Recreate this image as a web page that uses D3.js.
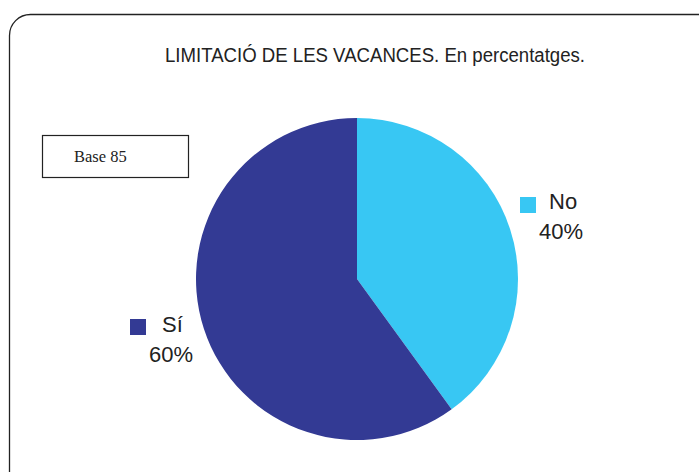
<!DOCTYPE html>
<html>
<head>
<meta charset="utf-8">
<script src="https://cdn.jsdelivr.net/npm/d3@7"></script>
<style>
body { margin: 0; background: #fff; }
</style>
</head>
<body>
<div id="chart"></div>
<script>
// data
var labels = ["No", "Sí"];
var values = [40, 60];
var colors = ["#38C7F3", "#333A94"];

var width = 699;
var height = 472;
var cx = 357, cy = 279, radius = 161;

var svg = d3.select('#chart')
    .append('svg')
        .attr('width', width)
        .attr('height', height);

// outer frame
svg.append('rect')
    .attr('x', 9.5)
    .attr('y', 14.5)
    .attr('width', 710)
    .attr('height', 480)
    .attr('rx', 21)
    .style('fill', 'none')
    .style('stroke', '#222')
    .style('stroke-width', 1.3);

svg.append('text')
    .attr('x', 375)
    .attr('y', 62)
    .attr('text-anchor', 'middle')
    .style('font-family', 'Liberation Sans, Arial, sans-serif')
    .style('font-size', '19.5px')
    .attr('textLength', 420)
    .attr('lengthAdjust', 'spacingAndGlyphs')
    .style('fill', '#222')
    .text('LIMITACIÓ DE LES VACANCES. En percentatges.');

// base box
svg.append('rect')
    .attr('x', 42.5)
    .attr('y', 135.5)
    .attr('width', 146)
    .attr('height', 42)
    .style('fill', '#fff')
    .style('stroke', '#222')
    .style('stroke-width', 1.2);

svg.append('text')
    .attr('x', 74)
    .attr('y', 162)
    .style('font-family', 'Liberation Serif, Times New Roman, serif')
    .style('font-size', '16.5px')
    .style('fill', '#222')
    .text('Base 85');

var pie = d3.pie()
    .value(function(d) { return d; })
    .sort(null);

var arc = d3.arc()
    .innerRadius(0)
    .outerRadius(radius);

var g = svg.append('g')
    .attr('transform', 'translate(' + cx + ',' + cy + ')');

g.selectAll('path')
    .data(pie(values))
    .enter()
    .append('path')
        .attr('d', arc)
        .attr('fill', function(d, i) { return colors[i]; });

// legend labels, placed by hand like in the original
var legendPos = [
    {sx: 520, sy: 197, tx: 549, ty: 209, px: 539, py: 239},
    {sx: 130, sy: 319, tx: 162, ty: 332, px: 149, py: 362}
];

var legend = svg.selectAll('.legend')
    .data(labels)
    .enter()
    .append('g')
        .attr('class', 'legend');

legend.append('rect')
    .attr('x', function(d, i) { return legendPos[i].sx; })
    .attr('y', function(d, i) { return legendPos[i].sy; })
    .attr('width', 16)
    .attr('height', 16)
    .style('fill', function(d, i) { return colors[i]; });

legend.append('text')
    .attr('x', function(d, i) { return legendPos[i].tx; })
    .attr('y', function(d, i) { return legendPos[i].ty; })
    .style('font-family', 'Liberation Sans, Arial, sans-serif')
    .style('font-size', '22px')
    .style('fill', '#222')
    .text(function(d) { return d; });

legend.append('text')
    .attr('x', function(d, i) { return legendPos[i].px; })
    .attr('y', function(d, i) { return legendPos[i].py; })
    .style('font-family', 'Liberation Sans, Arial, sans-serif')
    .style('font-size', '22px')
    .style('fill', '#222')
    .text(function(d, i) { return values[i] + '%'; });
</script>
</body>
</html>
